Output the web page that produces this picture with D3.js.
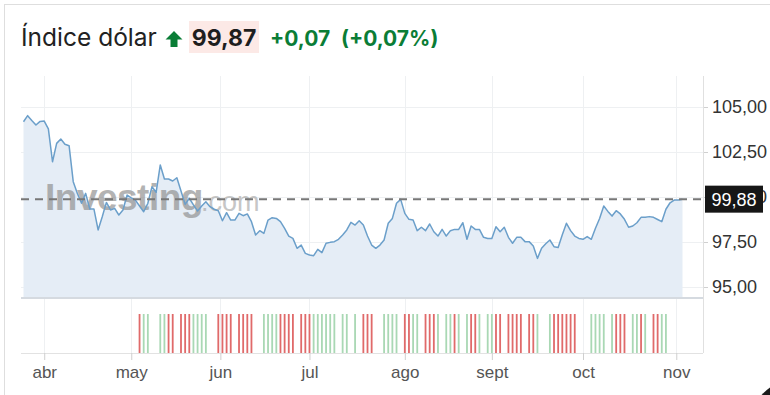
<!DOCTYPE html>
<html><head><meta charset="utf-8">
<script src="https://cdn.jsdelivr.net/npm/d3@7"></script>
<style>
html,body{margin:0;padding:0;background:#fff;}
svg{display:block;}
</style></head>
<body>
<svg id="chart" width="770" height="395"></svg>
<script>
// ---------------- data ----------------
const title = "Índice dólar";
const lastPrice = "99,87";
const changeAbs = "+0,07";
const changePct = "(+0,07%)";
const markerValue = 99.88;
const startDate = "2025-03-25";
const holidays = ["2025-04-18"];
const prices = [
 104.18,104.52,104.25,104.0,104.2,104.22,103.78,101.96,102.98,103.22,
 102.93,102.85,100.85,100.2,99.65,100.2,99.33,99.33,98.17,98.9,
 99.7,99.28,99.37,99.0,99.28,100.11,99.95,99.83,99.5,99.18,
 99.65,100.57,100.26,101.78,101.0,101.0,100.89,101.07,100.33,99.59,
 99.93,99.56,99.22,99.5,99.74,99.46,99.32,99.24,98.68,99.13,
 98.72,98.72,99.09,98.96,99.06,98.63,97.89,98.13,97.98,98.72,
 98.85,98.81,98.63,98.26,97.83,97.7,97.15,97.33,96.87,96.78,
 96.74,97.09,96.91,97.43,97.48,97.52,97.65,97.89,98.17,98.59,
 98.44,98.68,98.44,97.83,97.33,97.15,97.33,97.61,98.54,98.81,
 99.65,99.87,99.09,98.76,98.72,98.13,98.32,98.13,98.5,98.07,
 97.83,98.2,97.83,98.13,98.2,98.2,98.57,97.65,98.39,98.2,
 98.2,97.76,97.7,97.7,98.35,98.07,98.32,97.76,97.43,97.76,
 97.76,97.52,97.52,97.28,96.59,97.15,97.4,97.61,97.24,97.2,
 97.9,98.54,98.13,97.83,97.7,97.65,97.8,97.65,98.26,98.81,
 99.5,99.2,98.94,99.24,99.06,98.76,98.32,98.39,98.57,98.87,
 98.87,98.91,98.87,98.75,98.63,99.32,99.68,99.83,99.83,99.87
];
// one char per trading day (5 per chunk): r = down bar, g = up bar, . = no bar
const volumeChunks = [
 ".....", ".....", ".....", ".....", ".....", "...",
 "rgg..", "ggrr.", "rrrgg", "gg..r", "rrr.r", "rrr..", "ggggr", "rrr.r",
 "rrggg", "ggg.g", "g.g.r", "rr..g", "ggg.r", "rgg.r", "rrg.g", "grg.g",
 "rrg.g", "grr.r", "rrr.r", "rg..g", "rrrrr", "r...g", "ggg.g", "rrr.g",
 "grg.r", "rgg", "...."
];
const volumeDir = volumeChunks.join("");
const yTicks = [95, 97.5, 100, 102.5, 105];
const monthLabels = ["abr","may","jun","jul","ago","sept","oct","nov"];
const monthStarts = ["2025-04-01","2025-05-01","2025-06-01","2025-07-01","2025-08-01","2025-09-01","2025-10-01","2025-11-01"];

// ---------------- trading calendar ----------------
const fmt = d3.utcFormat("%Y-%m-%d");
const parse = d3.utcParse("%Y-%m-%d");
const dates = [];
for (let d = parse(startDate); dates.length < prices.length; d = d3.utcDay.offset(d, 1)) {
  const wd = d.getUTCDay();
  if (wd === 0 || wd === 6) continue;
  if (holidays.includes(fmt(d))) continue;
  dates.push(d);
}
const data = prices.map((v, i) => ({i, date: dates[i], v, dir: volumeDir[i] || "."}));

// ---------------- layout ----------------
const W = 770, H = 395;
const plotL = 21, plotR = 703;
const priceTop = 76, priceBottom = 298;
const volBottom = 353, volBarTop = 314;

const svg = d3.select("#chart");
const x = d3.scaleLinear().domain([0, prices.length - 1]).range([23.5, 682.5]);
const y = d3.scaleLinear().domain([95, 105]).range([287, 107]);
const vy = d3.scaleLinear().domain([0, 1]).range([volBottom, volBarTop]);

const monthPos = monthStarts.map(s => {
  const d = parse(s);
  const idx = dates.findIndex(t => t >= d);
  return fmt(dates[idx]) === s ? idx : idx - 0.5;
});

// borders
svg.append("line").attr("x1", 4).attr("x2", W).attr("y1", 4.5).attr("y2", 4.5).attr("stroke", "#dedede");
svg.append("line").attr("x1", 4.5).attr("x2", 4.5).attr("y1", 4).attr("y2", H).attr("stroke", "#dedede");

// ---------------- header ----------------
const hdr = svg.append("g").attr("font-family", "Inter, 'Noto Sans', sans-serif");
hdr.append("text").attr("x", 21).attr("y", 46).attr("font-size", 24.5).attr("fill", "#222").text(title);
hdr.append("path").attr("fill", "#0a7d36")
  .attr("d", "M174,31 L182.5,39.5 L177.5,39.5 L177.5,47 L170.5,47 L170.5,39.5 L165.5,39.5 Z");
hdr.append("rect").attr("x", 189).attr("y", 21).attr("width", 70).attr("height", 32).attr("fill", "#fce9e6");
hdr.append("text").attr("x", 224).attr("y", 46).attr("text-anchor", "middle").attr("font-size", 23)
  .attr("font-weight", 700).attr("fill", "#1e1e1e").text(lastPrice);
hdr.append("text").attr("x", 270).attr("y", 46).attr("font-size", 21).attr("font-weight", 700)
  .attr("fill", "#0a7d36").text(changeAbs);
hdr.append("text").attr("x", 341).attr("y", 46).attr("font-size", 21).attr("font-weight", 700)
  .attr("fill", "#0a7d36").text(changePct);

// ---------------- grid ----------------
const grid = svg.append("g").attr("stroke", "#eef0f2").attr("stroke-width", 1);
grid.selectAll("line.h").data(yTicks).join("line")
  .attr("x1", plotL).attr("x2", plotR)
  .attr("y1", d => Math.round(y(d)) + 0.5).attr("y2", d => Math.round(y(d)) + 0.5);
grid.selectAll("line.v").data(monthPos).join("line")
  .attr("x1", d => Math.round(x(d)) + 0.5).attr("x2", d => Math.round(x(d)) + 0.5)
  .attr("y1", priceTop).attr("y2", volBottom);

// ---------------- price area ----------------
const area = d3.area().x(d => x(d.i)).y0(priceBottom).y1(d => y(d.v));
const line = d3.line().x(d => x(d.i)).y(d => y(d.v));
svg.append("path").datum(data).attr("d", area).attr("fill", "#e5edf6");

// ---------------- watermark ----------------
const wm = svg.append("g").attr("font-family", "'Liberation Sans', Arial, sans-serif");
wm.append("text").attr("x", 45).attr("y", 210).attr("font-size", 37).attr("font-weight", 700)
  .attr("fill", "#8c8c8c").attr("opacity", 0.65).attr("letter-spacing", -0.5).text("Investing");
wm.append("text").attr("x", 201).attr("y", 211).attr("font-size", 27)
  .attr("fill", "#a8a8a8").attr("opacity", 0.65).text(".com");

// ---------------- price line ----------------
svg.append("path").datum(data).attr("d", line).attr("fill", "none")
  .attr("stroke", "#6b9fca").attr("stroke-width", 1.5).attr("stroke-linejoin", "round");

// panel borders
svg.append("line").attr("x1", plotL).attr("x2", plotR).attr("y1", priceBottom).attr("y2", priceBottom)
  .attr("stroke", "#d5dae0").attr("stroke-width", 2);
svg.append("line").attr("x1", plotL).attr("x2", plotR).attr("y1", volBottom + 0.5).attr("y2", volBottom + 0.5)
  .attr("stroke", "#e2e2e2");

// dashed current-price line
svg.append("line").attr("x1", plotL).attr("x2", plotR)
  .attr("y1", y(markerValue)).attr("y2", y(markerValue))
  .attr("stroke", "#777").attr("stroke-width", 2).attr("stroke-dasharray", "8,6");

// ---------------- volume bars ----------------
svg.append("g").selectAll("rect").data(data.filter(d => d.dir === "r" || d.dir === "g")).join("rect")
  .attr("x", d => x(d.i) - 0.9).attr("width", 1.8)
  .attr("y", vy(1)).attr("height", vy(0) - vy(1))
  .attr("fill", d => d.dir === "r" ? "#e06a6a" : "#a9d8b4");

// ---------------- axes ----------------
const yAxis = svg.append("g").attr("transform", `translate(${plotR},0)`)
  .call(d3.axisRight(y).tickValues(yTicks).tickSize(5).tickPadding(4)
    .tickFormat(d => d3.format(".2f")(d).replace(".", ",")));
yAxis.select(".domain").remove();
yAxis.selectAll(".tick line").attr("stroke", "#d0d0d0");
yAxis.selectAll(".tick text").attr("font-size", 18).attr("fill", "#333")
  .attr("font-family", "'Liberation Sans', Arial, sans-serif");
svg.append("line").attr("x1", plotR + 0.5).attr("x2", plotR + 0.5).attr("y1", priceTop).attr("y2", volBottom)
  .attr("stroke", "#e0e0e0");

const xAxis = svg.append("g").attr("transform", `translate(0,${volBottom})`)
  .call(d3.axisBottom(x).tickValues(monthPos).tickSize(7).tickPadding(6)
    .tickFormat((d, i) => monthLabels[i]));
xAxis.select(".domain").remove();
xAxis.selectAll(".tick line").attr("stroke", "#cfcfcf");
xAxis.selectAll(".tick text").attr("font-size", 17).attr("fill", "#555")
  .attr("font-family", "'Liberation Sans', Arial, sans-serif");

// current price tag (covers the 100,00 label as in the original)
const tag = svg.append("g");
tag.append("rect").attr("x", 705).attr("y", y(markerValue) - 13.5).attr("width", 58).attr("height", 27).attr("fill", "#161616");
tag.append("text").attr("x", 734).attr("y", y(markerValue) + 6.5).attr("text-anchor", "middle")
  .attr("font-size", 18).attr("fill", "#fff").attr("font-family", "'Liberation Sans', Arial, sans-serif")
  .text(d3.format(".2f")(markerValue).replace(".", ","));

// corner button (partially visible)
svg.append("circle").attr("cx", 800).attr("cy", 430).attr("r", 52).attr("fill", "#1a1a1a");
</script>
</body></html>
